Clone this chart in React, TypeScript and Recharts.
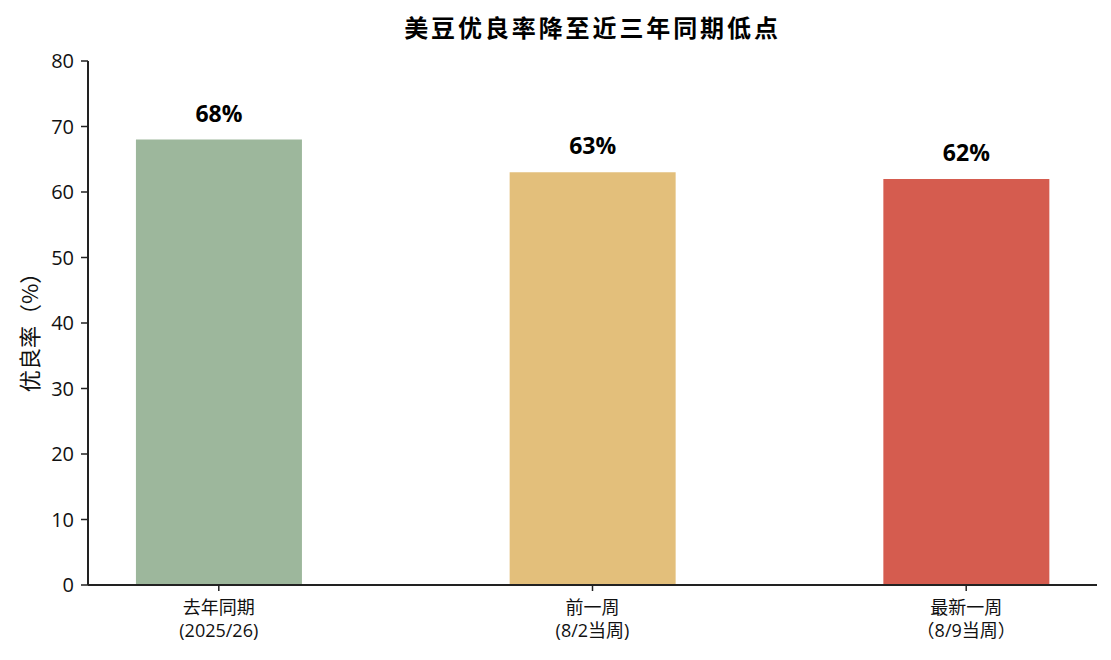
import React from "react";
import { BarChart, Bar, XAxis, YAxis, Cell, LabelList } from "recharts";

const categories = ["去年同期", "前一周", "最新一周"];
const subLabels = ["(2025/26)", "(8/2当周)", "（8/9当周）"];
const values = [68, 63, 62];
const colors = ["#9DB79C", "#E3BF7B", "#D55C4F"];
const yTicks = [0, 10, 20, 30, 40, 50, 60, 70, 80];
const title = "美豆优良率降至近三年同期低点";
const yLabel = "优良率（%）";

const FONT = "'Open Sans', 'Noto Sans CJK SC', sans-serif";
const CJK = "'Noto Sans CJK SC', 'Open Sans', sans-serif";

const data = categories.map((c, i) => ({ x: i, value: values[i], name: c }));

const XTick = (props: any) => {
  const { x, payload } = props;
  const i = payload.value as number;
  return (
    <g>
      <text x={x} y={614} textAnchor="middle" fontSize={18} fill="#111" fontFamily={FONT}>
        {categories[i]}
      </text>
      <text x={x} y={637} textAnchor="middle" fontSize={18} fill="#111" fontFamily={FONT}>
        {subLabels[i]}
      </text>
    </g>
  );
};

const YLabel = () => {
  const cx = 28;
  const cy = 327;
  return (
    <text
      x={cx}
      y={cy}
      transform={`rotate(-90, ${cx}, ${cy})`}
      textAnchor="middle"
      dominantBaseline="central"
      fontSize={22}
      fill="#111"
      fontFamily={CJK}
    >
      {yLabel}
    </text>
  );
};

export default function App() {
  return (
    <div style={{ position: "absolute", left: 0, top: 0, width: 1111, height: 660, background: "#fff" }}>
      <div
        style={{
          position: "absolute",
          left: 88,
          width: 1009,
          top: 9,
          textAlign: "center",
          fontFamily: CJK,
          fontWeight: 700,
          fontSize: 24,
          letterSpacing: 2.9,
          lineHeight: "36px",
          color: "#000",
        }}
      >
        {title}
      </div>
      <BarChart
        width={1111}
        height={660}
        data={data}
        margin={{ top: 61, right: 14, bottom: 0, left: 28 }}
      >
        <XAxis
          dataKey="x"
          type="number"
          domain={[-0.35, 2.35]}
          ticks={[0, 1, 2]}
          allowDataOverflow
          tick={<XTick />}
          tickSize={6}
          height={75}
          stroke="#222"
          axisLine={{ stroke: "#222", strokeWidth: 2 }}
          tickLine={{ stroke: "#222", strokeWidth: 1.5 }}
        />
        <YAxis
          type="number"
          domain={[0, 80]}
          ticks={yTicks}
          width={60}
          tickSize={7}
          tickMargin={7}
          tick={{ fontSize: 20, fill: "#111", fontFamily: FONT }}
          axisLine={{ stroke: "#222", strokeWidth: 2 }}
          tickLine={{ stroke: "#222", strokeWidth: 1.5 }}
          label={<YLabel />}
        />
        <Bar dataKey="value" barSize={166} isAnimationActive={false}>
          {data.map((d, i) => (
            <Cell key={d.name} fill={colors[i]} />
          ))}
          <LabelList
            dataKey="value"
            position="top"
            offset={18}
            formatter={(v: any) => `${v}%`}
            style={{ fontSize: 23, fontWeight: 700, fill: "#000", fontFamily: FONT }}
          />
        </Bar>
      </BarChart>
    </div>
  );
}
